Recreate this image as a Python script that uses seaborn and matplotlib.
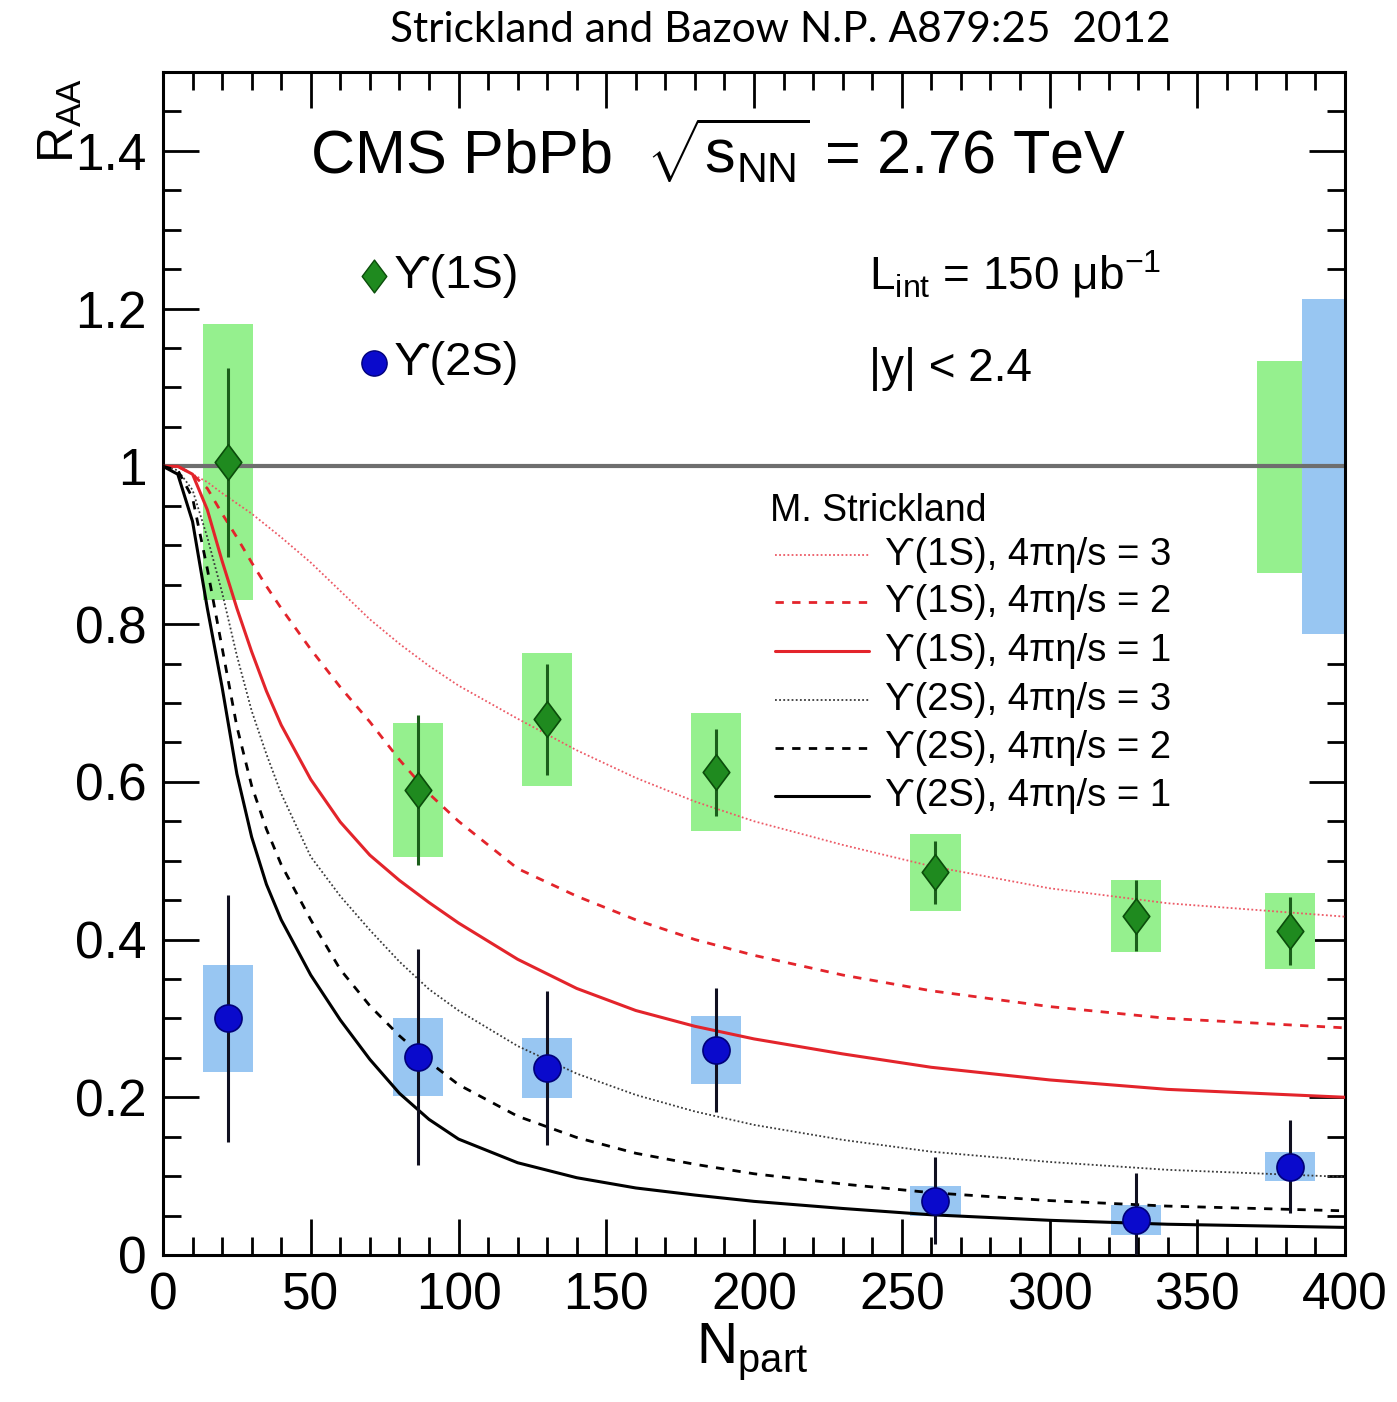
import matplotlib
matplotlib.use("Agg")
import matplotlib.pyplot as plt
from matplotlib.path import Path
import numpy as np
import pandas as pd
import seaborn as sns

# CMS Upsilon R_AA vs Npart
npart = [22.1, 86.3, 130.0, 187.1, 261.4, 329.4, 381.3]

raa_1s = [1.005, 0.590, 0.679, 0.612, 0.485, 0.430, 0.411]
stat_1s = [0.120, 0.095, 0.070, 0.055, 0.040, 0.045, 0.043]
syst_1s = [0.175, 0.085, 0.084, 0.075, 0.049, 0.046, 0.048]

raa_2s = [0.300, 0.251, 0.237, 0.260, 0.069, 0.044, 0.112]
stat_2s = [0.157, 0.137, 0.098, 0.079, 0.055, 0.060, 0.059]
syst_2s = [0.068, 0.049, 0.038, 0.043, 0.019, 0.019, 0.018]

# global uncertainties (boxes at right edge)
glob_x = [370.2, 385.5]
glob_w = [15.3, 14.5]
glob_lo = [0.865, 0.787]
glob_hi = [1.133, 1.212]

# Strickland model curves
curve_x = [0, 5, 10, 15, 20, 25, 30, 35, 40, 50, 60, 70, 80, 90, 100,
           120, 140, 160, 180, 200, 230, 260, 300, 340, 400]
s1_eta3 = [1.0, 1.0, 0.99, 0.98, 0.966, 0.953, 0.94, 0.925, 0.91, 0.878, 0.842, 0.806, 0.775,
           0.747, 0.722, 0.68, 0.64, 0.605, 0.575, 0.55, 0.52, 0.493, 0.465, 0.446, 0.429]
s1_eta2 = [1.0, 1.0, 0.99, 0.972, 0.94, 0.91, 0.878, 0.848, 0.82, 0.768, 0.72, 0.676, 0.628,
           0.585, 0.55, 0.49, 0.455, 0.425, 0.4, 0.38, 0.355, 0.335, 0.315, 0.3, 0.288]
s1_eta1 = [1.0, 1.0, 0.99, 0.945, 0.88, 0.82, 0.765, 0.715, 0.672, 0.603, 0.549, 0.507, 0.475,
           0.447, 0.421, 0.375, 0.338, 0.31, 0.29, 0.274, 0.255, 0.238, 0.222, 0.21, 0.2]
s2_eta3 = [1.0, 0.995, 0.97, 0.91, 0.84, 0.76, 0.69, 0.635, 0.585, 0.505, 0.455, 0.412, 0.372,
           0.337, 0.31, 0.265, 0.23, 0.203, 0.182, 0.165, 0.146, 0.131, 0.118, 0.108, 0.099]
s2_eta2 = [1.0, 0.995, 0.96, 0.87, 0.77, 0.67, 0.595, 0.54, 0.495, 0.425, 0.362, 0.316, 0.278,
           0.245, 0.216, 0.176, 0.149, 0.129, 0.115, 0.103, 0.09, 0.079, 0.069, 0.062, 0.056]
s2_eta1 = [1.0, 0.99, 0.93, 0.82, 0.72, 0.61, 0.53, 0.47, 0.425, 0.355, 0.298, 0.248, 0.205,
           0.172, 0.147, 0.117, 0.098, 0.085, 0.076, 0.068, 0.059, 0.051, 0.044, 0.039, 0.035]

curve_labels = ["ϒ(1S), 4πη/s = 3", "ϒ(1S), 4πη/s = 2", "ϒ(1S), 4πη/s = 1",
                "ϒ(2S), 4πη/s = 3", "ϒ(2S), 4πη/s = 2", "ϒ(2S), 4πη/s = 1"]

sns.set_theme(style="ticks")
plt.rcParams['font.family'] = ['Liberation Sans', 'DejaVu Sans']
plt.rcParams['mathtext.fontset'] = 'custom'
plt.rcParams['mathtext.rm'] = 'Liberation Sans'
plt.rcParams['mathtext.it'] = 'Liberation Sans'
plt.rcParams['mathtext.sf'] = 'Liberation Sans'
plt.rcParams['text.color'] = 'black'
plt.rcParams['xtick.labelcolor'] = 'black'
plt.rcParams['ytick.labelcolor'] = 'black'

fig = plt.figure(figsize=(13.97, 14.02), dpi=100)
ax = fig.add_axes([163/1397, 1-1255/1402, (1345-163)/1397, (1255-72)/1402])

GREEN_BOX = "#95f08e"
BLUE_BOX = "#98c6f2"
RED = "#e3242b"

# syst boxes
w = 17
ax.bar(npart, [2*s for s in syst_1s], bottom=[r - s for r, s in zip(raa_1s, syst_1s)],
       width=w, color=GREEN_BOX, linewidth=0, zorder=1)
ax.bar(npart, [2*s for s in syst_2s], bottom=[r - s for r, s in zip(raa_2s, syst_2s)],
       width=w, color=BLUE_BOX, linewidth=0, zorder=1)
ax.bar(glob_x, [h - l for h, l in zip(glob_hi, glob_lo)], bottom=glob_lo, width=glob_w,
       align='edge', color=[GREEN_BOX, BLUE_BOX], linewidth=0, zorder=1)

ax.axhline(1.0, color="#6e6e6e", lw=3, zorder=2)

# model curves
styles = [
    (s1_eta3, "#ec5a66", (0, (1, 1.3)), 1.3),
    (s1_eta2, RED, (0, (3, 3)), 2.0),
    (s1_eta1, RED, '-', 2.2),
    (s2_eta3, "#3a3a3a", (0, (1, 1.3)), 1.3),
    (s2_eta2, "black", (0, (3, 3)), 2.0),
    (s2_eta1, "black", '-', 2.2),
]
for vals, col, ls, lw in styles:
    sns.lineplot(x=curve_x, y=vals, ax=ax, color=col, linestyle=ls, lw=lw, zorder=3)

# stat errors
ax.errorbar(npart, raa_1s, yerr=stat_1s, fmt='none', ecolor="#1b5e1b", elinewidth=2.2, zorder=4)
ax.errorbar(npart, raa_2s, yerr=stat_2s, fmt='none', ecolor="#101020", elinewidth=2.2, zorder=4)

diamond = Path([(0, 1), (0.75, 0), (0, -1), (-0.75, 0), (0, 1)],
               [Path.MOVETO, Path.LINETO, Path.LINETO, Path.LINETO, Path.CLOSEPOLY])
sns.scatterplot(x=npart, y=raa_1s, ax=ax, marker=diamond, s=650, color="#1f8a1f",
                edgecolor="#0b4d0b", linewidth=1.2, zorder=5)
sns.scatterplot(x=npart, y=raa_2s, ax=ax, marker='o', s=380, color="#0a0acc",
                edgecolor="#00007a", linewidth=1.2, zorder=5)

ax.set_xlim(0, 400)
ax.set_ylim(0, 1.5)
ax.set_xticks(np.arange(0, 401, 50))
ax.set_xticks(np.arange(0, 401, 10), minor=True)
ax.set_yticks([0, 0.2, 0.4, 0.6, 0.8, 1.0, 1.2, 1.4])
ax.set_yticklabels(["0", "0.2", "0.4", "0.6", "0.8", "1", "1.2", "1.4"])
ax.set_yticks(np.arange(0, 1.501, 0.05), minor=True)
ax.tick_params(which='both', direction='in', top=True, right=True, width=2, color='black')
ax.tick_params(which='major', length=26, labelsize=37, pad=12)
ax.tick_params(which='minor', length=13)
for sp in ax.spines.values():
    sp.set_linewidth(2.2)
    sp.set_color('black')
ax.set_xlabel("")
ax.set_ylabel("")

# labels
fig.text(60/1397, 1-120/1402, r"R$_{\mathrm{AA}}$", rotation=90, fontsize=36,
         ha='center', va='center')
fig.text(752/1397, 1-1352/1402, r"N$_{\mathrm{part}}$", fontsize=41, ha='center', va='center')
fig.text(780/1397, 1-30/1402, "Strickland and Bazow N.P. A879:25  2012", fontsize=30.5,
         family=['Lato', 'DejaVu Sans'], ha='center', va='center')

ax.text(49.7, 1.372, r"CMS PbPb  $\sqrt{\mathrm{s}_{\mathrm{NN}}}$ = 2.76 TeV", fontsize=44,
        ha='left', va='baseline')

# data legend
ax.scatter([71.5], [1.241], marker=diamond, s=560, color="#1f8a1f", edgecolor="#0b4d0b", zorder=5)
ax.scatter([71.5], [1.131], marker='o', s=330, color="#0a0acc", edgecolor="#00007a", zorder=5)
ax.text(78, 1.241, "ϒ(1S)", fontsize=34, ha='left', va='center')
ax.text(78, 1.131, "ϒ(2S)", fontsize=34, ha='left', va='center')
ax.text(239, 1.244, r"L$_{\mathrm{int}}$ = 150 μb$^{\mathrm{-1}}$", fontsize=33, ha='left', va='center')
ax.text(239, 1.123, "|y| < 2.4", fontsize=33, ha='left', va='center')

# model legend
ax.text(205.4, 0.943, "M. Strickland", fontsize=27, ha='left', va='center')
rows = [0.888, 0.828, 0.766, 0.704, 0.643, 0.582]
for (vals, col, ls, lw), lab, yy in zip(styles, curve_labels, rows):
    ax.plot([207, 239], [yy, yy], color=col, linestyle=ls, lw=lw, zorder=3)
    ax.text(244.3, yy, lab, fontsize=27.5, ha='left', va='center')

fig.savefig("out.png", dpi=100)
